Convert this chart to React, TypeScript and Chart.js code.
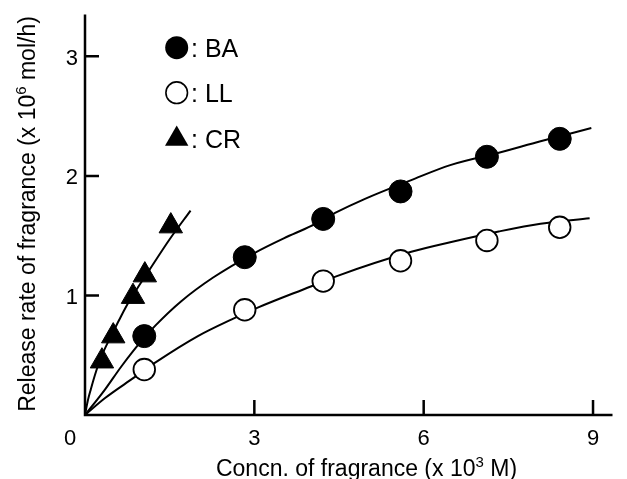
import React, { useEffect, useRef } from 'react';
import { Chart, registerables } from 'chart.js';

Chart.register(...registerables);

// Axis ticks
const xTickValues = [3, 6, 9];
const yTickValues = [1, 2, 3];
const originLabel = '0';
const xMin = 0;
const xMax = 9.345;
const yMin = 0;
const yMax = 3.35;

// Measured points
const baX = [1.05, 2.83, 4.22, 5.59, 7.12, 8.41];
const baY = [0.66, 1.32, 1.64, 1.87, 2.16, 2.31];
const llX = [1.05, 2.83, 4.22, 5.59, 7.12, 8.41];
const llY = [0.38, 0.88, 1.12, 1.29, 1.46, 1.57];
const crX = [0.3, 0.5, 0.85, 1.06, 1.52];
const crY = [0.45, 0.66, 0.99, 1.17, 1.58];

// Fitted curves
const baCurveX = [0, 0.35, 0.65, 1.0, 1.25, 1.7, 2.27, 3.0, 3.53, 4.0, 4.43, 4.97, 5.78, 6.47, 7.38, 8.07, 8.97];
const baCurveY = [0, 0.21, 0.41, 0.62, 0.75, 0.95, 1.15, 1.355, 1.48, 1.58, 1.69, 1.81, 1.965, 2.09, 2.2, 2.29, 2.4];
const llCurveX = [0, 0.35, 0.86, 1.25, 2.0, 2.6, 3.07, 4.0, 4.45, 5.78, 6.47, 7.33, 8.07, 8.94];
const llCurveY = [0, 0.14, 0.31, 0.44, 0.66, 0.8, 0.9, 1.075, 1.16, 1.365, 1.445, 1.535, 1.6, 1.645];
const crCurveX = [0, 0.05, 0.1, 0.2, 0.3, 0.45, 0.6, 0.72, 0.9, 1.15, 1.5, 1.87];
const crCurveY = [0, 0.12, 0.21, 0.37, 0.5, 0.65, 0.79, 0.9, 1.04, 1.22, 1.47, 1.71];

const legendLabels = [': BA', ': LL', ': CR'];
const xTitleParts: [string, boolean][] = [['Concn. of fragrance (x 10', false], ['3', true], [' M)', false]];
const yTitleParts: [string, boolean][] = [['Release rate of fragrance (x 10', false], ['6', true], [' mol/h)', false]];

const FONT = '"Liberation Sans", Arial, Helvetica, sans-serif';

const pts = (xs: number[], ys: number[]) => xs.map((x, i) => ({ x, y: ys[i] }));

function drawParts(ctx: CanvasRenderingContext2D, parts: [string, boolean][], size: number, supSize: number, cx: number, baseline: number) {
  const widths = parts.map(([t, sup]) => {
    ctx.font = `${sup ? supSize : size}px ${FONT}`;
    return ctx.measureText(t).width;
  });
  const total = widths.reduce((a, b) => a + b, 0);
  let x = cx - total / 2;
  ctx.textAlign = 'left';
  ctx.textBaseline = 'alphabetic';
  parts.forEach(([t, sup], i) => {
    ctx.font = `${sup ? supSize : size}px ${FONT}`;
    ctx.fillText(t, x, sup ? baseline - size * 0.38 : baseline);
    x += widths[i];
  });
}

const overlayPlugin = {
  id: 'overlay',
  afterDraw(chart: any) {
    const ctx: CanvasRenderingContext2D = chart.ctx;
    const xs = chart.scales.x;
    const ys = chart.scales.y;
    const x0 = xs.getPixelForValue(0);
    const y0 = ys.getPixelForValue(0);
    const top = chart.chartArea.top;
    const right = chart.chartArea.right;
    ctx.save();
    ctx.strokeStyle = '#000';
    ctx.fillStyle = '#000';
    ctx.lineWidth = 2.5;
    ctx.lineCap = 'butt';
    // axes
    ctx.beginPath();
    ctx.moveTo(x0, top);
    ctx.lineTo(x0, y0 + 1.25);
    ctx.moveTo(x0 - 1.25, y0);
    ctx.lineTo(right, y0);
    ctx.stroke();
    // ticks
    ctx.beginPath();
    yTickValues.forEach((v) => {
      const p = ys.getPixelForValue(v);
      ctx.moveTo(x0, p);
      ctx.lineTo(x0 + 14, p);
    });
    xTickValues.forEach((v) => {
      const p = xs.getPixelForValue(v);
      ctx.moveTo(p, y0);
      ctx.lineTo(p, y0 - 15);
    });
    ctx.stroke();
    // tick labels
    ctx.font = `22px ${FONT}`;
    ctx.textBaseline = 'alphabetic';
    ctx.textAlign = 'center';
    xTickValues.forEach((v) => {
      ctx.fillText(String(v), xs.getPixelForValue(v), y0 + 30);
    });
    ctx.fillText(originLabel, x0 - 15, y0 + 30);
    ctx.textAlign = 'right';
    yTickValues.forEach((v) => {
      ctx.fillText(String(v), x0 - 7, ys.getPixelForValue(v) + 8.5);
    });
    // titles
    drawParts(ctx, xTitleParts, 23, 15, 366.5, 476);
    ctx.save();
    ctx.translate(35, 214);
    ctx.rotate(-Math.PI / 2);
    drawParts(ctx, yTitleParts, 23, 15, 0, 0);
    ctx.restore();
    // legend
    const lx = 176.7;
    const rows = [47.7, 92.7, 139];
    // filled circle
    ctx.beginPath();
    ctx.arc(lx, rows[0], 11.5, 0, Math.PI * 2);
    ctx.fill();
    // open circle
    ctx.beginPath();
    ctx.lineWidth = 1.6;
    ctx.arc(lx, rows[1], 10.8, 0, Math.PI * 2);
    ctx.fillStyle = '#fff';
    ctx.fill();
    ctx.stroke();
    ctx.fillStyle = '#000';
    // triangle
    const r = 13.5;
    ctx.beginPath();
    ctx.moveTo(lx, rows[2] - r);
    ctx.lineTo(lx + r * Math.sin((2 * Math.PI) / 3), rows[2] + r * 0.5);
    ctx.lineTo(lx - r * Math.sin((2 * Math.PI) / 3), rows[2] + r * 0.5);
    ctx.closePath();
    ctx.fill();
    ctx.font = `25px ${FONT}`;
    ctx.textAlign = 'left';
    const baselines = [56.7, 102, 147.7];
    legendLabels.forEach((t, i) => ctx.fillText(t, 191, baselines[i]));
    ctx.restore();
  },
};

export default function App() {
  const canvasRef = useRef<HTMLCanvasElement | null>(null);

  useEffect(() => {
    if (!canvasRef.current) return;
    const curve = (xs: number[], ys: number[]) => ({
      data: pts(xs, ys),
      showLine: true,
      borderColor: '#000',
      borderWidth: 2,
      pointRadius: 0,
      fill: false,
      cubicInterpolationMode: 'monotone' as const,
      order: 2,
    });
    const chart = new Chart(canvasRef.current, {
      type: 'scatter',
      data: {
        datasets: [
          curve(baCurveX, baCurveY),
          curve(llCurveX, llCurveY),
          curve(crCurveX, crCurveY),
          {
            label: 'BA',
            data: pts(baX, baY),
            pointStyle: 'circle',
            pointRadius: 11.5,
            backgroundColor: '#000',
            borderColor: '#000',
            borderWidth: 1,
            order: 1,
          },
          {
            label: 'LL',
            data: pts(llX, llY),
            pointStyle: 'circle',
            pointRadius: 10.8,
            backgroundColor: '#fff',
            borderColor: '#000',
            borderWidth: 1.8,
            order: 1,
          },
          {
            label: 'CR',
            data: pts(crX, crY),
            pointStyle: 'triangle',
            pointRadius: 13.5,
            backgroundColor: '#000',
            borderColor: '#000',
            borderWidth: 1,
            order: 1,
          },
        ],
      },
      options: {
        animation: false,
        responsive: false,
        events: [],
        layout: { padding: { top: 12, right: 0, left: 0, bottom: 0 } },
        plugins: { legend: { display: false }, tooltip: { enabled: false } },
        scales: {
          x: {
            type: 'linear',
            min: xMin,
            max: xMax,
            grid: { display: false, drawTicks: false },
            border: { display: false },
            ticks: { display: false, stepSize: 3 },
            afterFit: (s: any) => { s.height = 64; },
          },
          y: {
            type: 'linear',
            min: yMin,
            max: yMax,
            grid: { display: false, drawTicks: false },
            border: { display: false },
            ticks: { display: false, stepSize: 1 },
            afterFit: (s: any) => { s.width = 85; },
          },
        },
      },
      plugins: [overlayPlugin],
    });
    return () => chart.destroy();
  }, []);

  return (
    <div style={{ position: 'fixed', left: 0, top: 0, width: 627, height: 479, background: '#fff' }}>
      <canvas ref={canvasRef} width={627} height={479} style={{ display: 'block' }} />
    </div>
  );
}
